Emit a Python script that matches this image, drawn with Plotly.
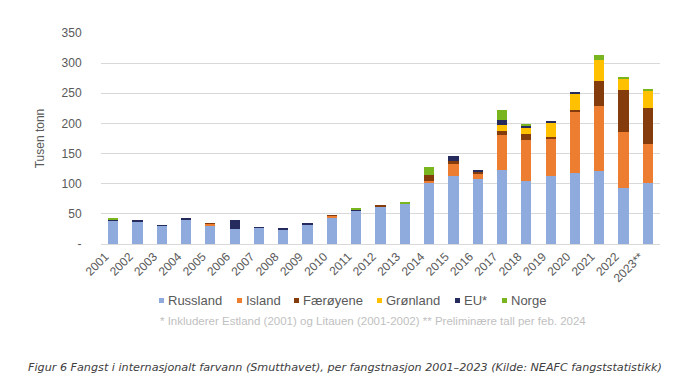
import plotly.graph_objects as go

years = ["2001", "2002", "2003", "2004", "2005", "2006", "2007", "2008", "2009", "2010",
         "2011", "2012", "2013", "2014", "2015", "2016", "2017", "2018", "2019", "2020",
         "2021", "2022", "2023**"]

russland = [38.5, 37, 30.5, 40.5, 31, 25, 27, 24, 33, 44, 55, 62, 68, 101, 113, 107, 123, 105, 113, 117, 121, 93, 101]
island = [0, 0, 0, 0, 2.5, 0, 0, 0, 0, 2.5, 0, 0.5, 0, 4, 20, 10, 57, 68, 62, 103, 108, 93, 65]
faeroyene = [0, 0, 0, 0, 1.2, 0, 0, 0, 0, 1.2, 0, 1, 0, 10, 5, 3, 8, 9, 3, 3, 42, 70, 59]
gronland = [0.6, 0, 0, 0, 0, 0, 0, 0, 0, 0, 0, 0, 0, 0, 0, 0, 9, 10, 23, 26, 35, 18, 30]
eu = [1.5, 1.5, 1, 1.5, 0, 15, 1, 1, 1.5, 0, 3, 0, 0, 0, 8, 3, 8, 4, 1.5, 1.5, 0, 0, 0]
norge = [1, 0, 0, 0, 0, 0, 0, 0, 0, 0, 2, 0, 1.5, 13, 0, 0, 17, 2, 0, 0, 7, 2, 2]

series_names = ["Russland", "Island", "Færøyene", "Grønland", "EU*", "Norge"]
series_values = [russland, island, faeroyene, gronland, eu, norge]
series_colors = ["#8FAADC", "#ED7D31", "#843C0C", "#FFC000", "#262B5E", "#78B51E"]

ytick_vals = [0, 50, 100, 150, 200, 250, 300, 350]
ytick_text = ["-", "50", "100", "150", "200", "250", "300", "350"]

footnote = "* Inkluderer Estland (2001) og Litauen (2001-2002) ** Preliminære tall per feb. 2024"
caption = "Figur 6 Fangst i internasjonalt farvann (Smutthavet), per fangstnasjon 2001–2023 (Kilde: NEAFC fangststatistikk)"

W, H = 674, 383
L, R, T, B = 93, 22, 25, 147
pw = W - L - R
ph = H - T - B


def px_x(x):
    return (x - L) / pw


def px_y(y):
    return (H - B - y) / ph


fig = go.Figure()
for name, vals, col in zip(series_names, series_values, series_colors):
    fig.add_trace(go.Bar(x=years, y=vals, name=name, marker=dict(color=col, line=dict(width=0)),
                         showlegend=False))

TXT = "#595959"
fig.update_layout(
    width=W, height=H,
    barmode="stack",
    bargap=0.58,
    plot_bgcolor="white", paper_bgcolor="white",
    margin=dict(l=L, r=R, t=T, b=B),
    font=dict(family="Arial, Liberation Sans, sans-serif", size=12, color=TXT),
    xaxis=dict(tickangle=-45, showgrid=False, showline=True, linecolor="#D9D9D9",
               linewidth=1, tickfont=dict(size=12, color=TXT), ticks="",
               ticklabelshift=-8),
    yaxis=dict(range=[0, 350], tickvals=ytick_vals, ticktext=ytick_text,
               showgrid=True, gridcolor="#D9D9D9", gridwidth=1, zeroline=False,
               ticks="outside", ticklen=16, tickcolor="rgba(0,0,0,0)",
               tickfont=dict(size=12, color=TXT),
               title=dict(text="Tusen tonn", font=dict(size=12, color=TXT), standoff=14)),
)

# Legend (drawn manually to match compact Excel-style legend)
legend_sq_x = [151, 229, 286, 369, 447, 494]
leg_y = 292.5
for name, col, sx in zip(series_names, series_colors, legend_sq_x):
    fig.add_shape(type="rect", xref="paper", yref="paper",
                  x0=px_x(sx), x1=px_x(sx + 5), y0=px_y(leg_y + 2.5), y1=px_y(leg_y - 2.5),
                  fillcolor=col, line=dict(width=0))
    fig.add_annotation(text=name, xref="paper", yref="paper", x=px_x(sx + 6.5), y=px_y(leg_y),
                       xanchor="left", yanchor="middle", showarrow=False,
                       font=dict(size=13, color=TXT))

fig.add_annotation(
    text=footnote,
    xref="paper", yref="paper", x=px_x(365), y=px_y(313), xanchor="center", yanchor="middle",
    showarrow=False, font=dict(size=11.5, color="#BFBFBF"),
)

fig.add_annotation(
    text="<i>" + caption + "</i>",
    xref="paper", yref="paper", x=px_x(337), y=px_y(360), xanchor="center", yanchor="middle",
    showarrow=False, font=dict(family="DejaVu Sans, sans-serif", size=11.2, color="#404040"),
)

fig.write_html("out.html")
